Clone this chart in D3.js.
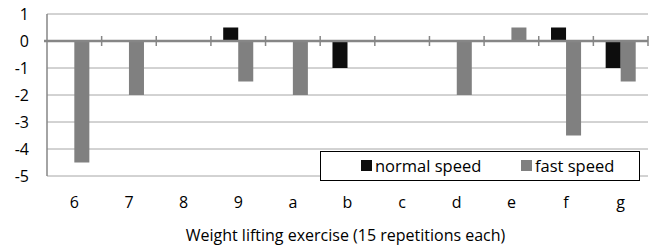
<!DOCTYPE html>
<html>
<head>
<meta charset="utf-8">
<script src="https://cdn.jsdelivr.net/npm/d3@7"></script>
<style>
  body { margin: 0; background: #fff; }
  svg { display: block; }
  text { font-family: "Open Sans", "Noto Sans", sans-serif; fill: #000; }
</style>
</head>
<body>
<div id="chart"></div>
<script>
const categories = ["6", "7", "8", "9", "a", "b", "c", "d", "e", "f", "g"];
const normalSpeed = [0, 0, 0, 0.5, 0, -1, 0, 0, 0, 0.5, -1];
const fastSpeed = [-4.5, -2, 0, -1.5, -2, 0, 0, -2, 0.5, -3.5, -1.5];
const yTicks = [1, 0, -1, -2, -3, -4, -5];
const seriesNames = ["normal speed", "fast speed"];
const colors = ["#0d0d0d", "#808080"];

const width = 664, height = 246;
const margin = { top: 14, right: 16, bottom: 70, left: 47 };
const innerWidth = width - margin.left - margin.right;
const innerHeight = height - margin.top - margin.bottom;

const svg = d3.select("#chart")
  .append("svg")
  .attr("width", width)
  .attr("height", height);

const g = svg.append("g")
  .attr("transform", `translate(${margin.left},${margin.top})`);

const xScale = d3.scaleBand().domain(categories).range([0, innerWidth]);
const inner = d3.scaleBand().domain(seriesNames)
  .range([xScale.bandwidth() * 0.225, xScale.bandwidth() * 0.775]);
const yScale = d3.scaleLinear().domain([-5, 1]).range([innerHeight, 0]);

// gridlines
g.selectAll("line.grid")
  .data(yTicks.filter(d => d !== 0))
  .join("line")
  .attr("class", "grid")
  .attr("x1", 0).attr("x2", innerWidth)
  .attr("y1", d => yScale(d)).attr("y2", d => yScale(d))
  .attr("stroke", "#a6a6a6").attr("stroke-width", 1);

// y labels
g.selectAll("text.ylab")
  .data(yTicks)
  .join("text")
  .attr("class", "ylab")
  .attr("x", -18)
  .attr("y", d => yScale(d))
  .attr("dy", "0.35em")
  .attr("text-anchor", "end")
  .style("font-size", "16px")
  .text(d => d);

// bars
const series = [normalSpeed, fastSpeed];
series.forEach((vals, si) => {
  g.selectAll(`rect.s${si}`)
    .data(vals.map((v, i) => ({ c: categories[i], v })).filter(d => d.v !== 0))
    .join("rect")
    .attr("class", `s${si}`)
    .attr("x", d => xScale(d.c) + inner(seriesNames[si]))
    .attr("width", inner.bandwidth())
    .attr("y", d => yScale(Math.max(0, d.v)))
    .attr("height", d => Math.abs(yScale(d.v) - yScale(0)))
    .attr("fill", colors[si]);
});

// left axis line
g.append("line")
  .attr("x1", 0).attr("x2", 0)
  .attr("y1", 0).attr("y2", innerHeight)
  .attr("stroke", "#868686").attr("stroke-width", 1.5);

// zero axis with ticks
g.append("line")
  .attr("x1", -3).attr("x2", innerWidth)
  .attr("y1", yScale(0)).attr("y2", yScale(0))
  .attr("stroke", "#868686").attr("stroke-width", 2.5);

g.selectAll("line.xtick")
  .data(categories.slice(1).map(c => xScale(c)).concat([innerWidth]))
  .join("line")
  .attr("class", "xtick")
  .attr("x1", d => d).attr("x2", d => d)
  .attr("y1", yScale(0) - 5).attr("y2", yScale(0) + 5)
  .attr("stroke", "#868686").attr("stroke-width", 1.5);

// category labels
g.selectAll("text.xlab")
  .data(categories)
  .join("text")
  .attr("class", "xlab")
  .attr("x", d => xScale(d) + xScale.bandwidth() / 2)
  .attr("y", innerHeight + 26)
  .attr("dy", "0.35em")
  .attr("text-anchor", "middle")
  .style("font-size", "16px")
  .text(d => d);

svg.append("text")
  .attr("x", margin.left + innerWidth / 2 - 2)
  .attr("y", 235)
  .attr("dy", "0.35em")
  .attr("text-anchor", "middle")
  .style("font-size", "16px")
  .text("Weight lifting exercise (15 repetitions each)");

// legend
const legend = svg.append("g");
legend.append("rect")
  .attr("x", 320.5).attr("y", 151.5)
  .attr("width", 319).attr("height", 29)
  .attr("fill", "#fff").attr("stroke", "#000").attr("stroke-width", 1);

const legendX = [361, 521];
seriesNames.forEach((name, i) => {
  legend.append("rect")
    .attr("x", legendX[i]).attr("y", 160)
    .attr("width", 11).attr("height", 11)
    .attr("fill", colors[i]);
  legend.append("text")
    .attr("x", legendX[i] + 14).attr("y", 166)
    .attr("dy", "0.35em")
    .style("font-size", "16.5px")
    .text(name);
});
</script>
</body>
</html>
